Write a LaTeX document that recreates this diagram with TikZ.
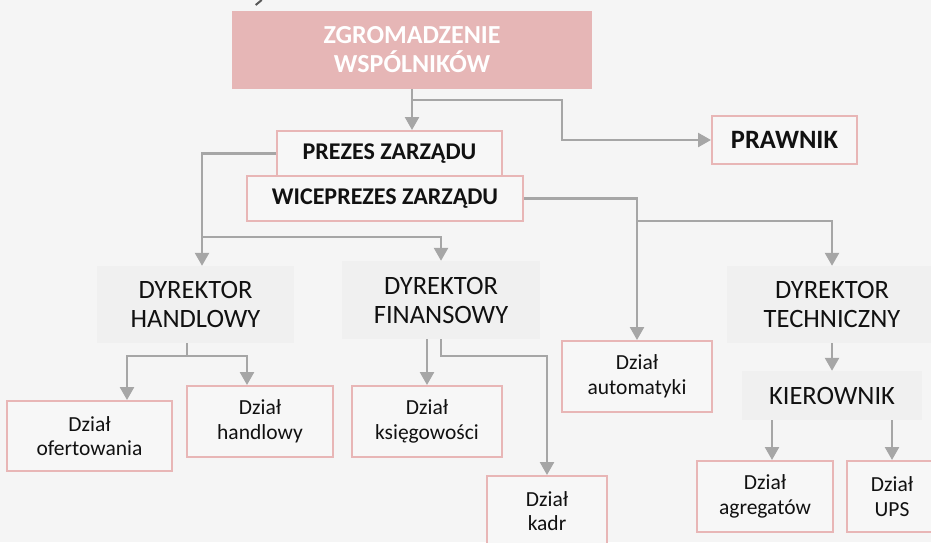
\documentclass[tikz,border=0pt]{standalone}
\usepackage{fontspec}
\setmainfont{Carlito}
\usepackage{tikz}
\usetikzlibrary{arrows.meta}
\definecolor{OrgPink}{HTML}{E6B6B6}
\definecolor{OrgRim}{HTML}{E8B6B6}
\definecolor{OrgGrey}{HTML}{F0F0F0}
\definecolor{OrgPaper}{HTML}{F5F5F5}
\definecolor{OrgBox}{HTML}{F7F7F7}
\definecolor{OrgLine}{HTML}{A6A6A6}
\definecolor{OrgInk}{HTML}{111111}
\tikzset{
  orgboard/.style={
    fill=OrgPink,
    text=white,
    minimum width=360pt,
    minimum height=78pt,
    inner sep=0pt,
    align=center,
    font=\fontsize{26}{29}\selectfont\bfseries
  },
  orgchief/.style={
    draw=OrgRim,
    fill=OrgBox,
    line width=2pt,
    text=OrgInk,
    minimum height=45pt,
    inner sep=0pt,
    align=center,
    font=\fontsize{24}{28}\selectfont\bfseries
  },
  orghead/.style={
    fill=OrgGrey,
    text=OrgInk,
    inner sep=0pt,
    align=center,
    font=\fontsize{26.5}{29}\selectfont
  },
  orgunit/.style={
    draw=OrgRim,
    fill=OrgBox,
    line width=2pt,
    text=OrgInk,
    minimum height=71pt,
    inner sep=0pt,
    align=center,
    font=\fontsize{21.5}{24.5}\selectfont
  },
  orgflow/.style={-{Triangle[length=13pt,width=14pt]}, line width=2.5pt, draw=OrgLine},
  orgjoin/.style={line width=2.5pt, draw=OrgLine}
}
\begin{document}
\begin{tikzpicture}[x=1pt,y=-1pt]
  \useasboundingbox[fill=OrgPaper] (0,0) rectangle (931,542);
  \clip (0,0) rectangle (931,542);
  \draw[line width=2pt, draw=black!65] (255.7,5) -- (261.7,0);

  \node[orgboard] (board) at (412,50) {ZGROMADZENIE\\WSPÓLNIKÓW};
  \node[orgchief, minimum width=276pt] (vice) at (385,198.5) {WICEPREZES ZARZĄDU};
  \node[orgchief, minimum width=225pt] (chair) at (389.5,153.5) {PREZES ZARZĄDU};
  \node[orgchief, minimum width=145pt, minimum height=48pt, font=\fontsize{26.5}{29}\selectfont\bfseries] (lawyer) at (784.5,140) {PRAWNIK};

  \node[orghead, minimum width=197pt, minimum height=77pt] (salesdir) at (195.5,304.5) {DYREKTOR\\HANDLOWY};
  \node[orghead, minimum width=198pt, minimum height=78pt] (findir) at (441,300) {DYREKTOR\\FINANSOWY};
  \node[orghead, minimum width=210pt, minimum height=77pt] (techdir) at (832,304.5) {DYREKTOR\\TECHNICZNY};
  \node[orghead, minimum width=180pt, minimum height=49pt] (manager) at (832,395.5) {KIEROWNIK};

  \node[orgunit, minimum width=165pt, minimum height=70pt] (offers) at (89.5,436) {Dział\\ofertowania};
  \node[orgunit, minimum width=146pt] (sales) at (260,421.5) {Dział\\handlowy};
  \node[orgunit, minimum width=150pt] (accounts) at (427,421.5) {Dział\\księgowości};
  \node[orgunit, minimum width=150pt] (automation) at (637,376.5) {Dział\\automatyki};
  \node[orgunit, minimum width=120pt, minimum height=70pt] (staff) at (547,511) {Dział\\kadr};
  \node[orgunit, minimum width=136pt] (gensets) at (765,496.5) {Dział\\agregatów};
  \node[orgunit, minimum width=90pt] (ups) at (892,496.5) {Dział\\UPS};

  \coordinate (lawbend) at (562,100);
  \coordinate (leftbend) at (202,237);
  \coordinate (rightbend) at (637,221);
  \coordinate (salesbend) at (187,356);

  \draw[orgflow] (board.south) -- (board.south |- chair.north);
  \draw[orgflow] (board.south |- lawbend) -- (lawbend) |- (lawyer);
  \draw[orgflow] (chair.west) -| (leftbend |- salesdir.north);
  \draw[orgflow] (leftbend) -| (findir.north);
  \draw[orgflow] (vice.east) -| (automation.north);
  \draw[orgflow] (rightbend) -| (techdir.north);

  \draw[orgjoin] (salesdir.south -| salesbend) -- (salesbend);
  \draw[orgflow] (salesbend) -| ([xshift=37.5pt]offers.north);
  \draw[orgflow] (salesbend) -| ([xshift=-13pt]sales.north);
  \draw[orgflow] (accounts.north |- findir.south) -- (accounts.north);
  \draw[orgflow] (findir.south) -- ++(0,17) -| (staff.north);
  \draw[orgflow] (techdir.south) -- (manager.north);
  \draw[orgflow] ([xshift=-60pt]manager.south) -- ([xshift=7pt]gensets.north);
  \draw[orgflow] (ups.north |- manager.south) -- (ups.north);
\end{tikzpicture}
\end{document}
